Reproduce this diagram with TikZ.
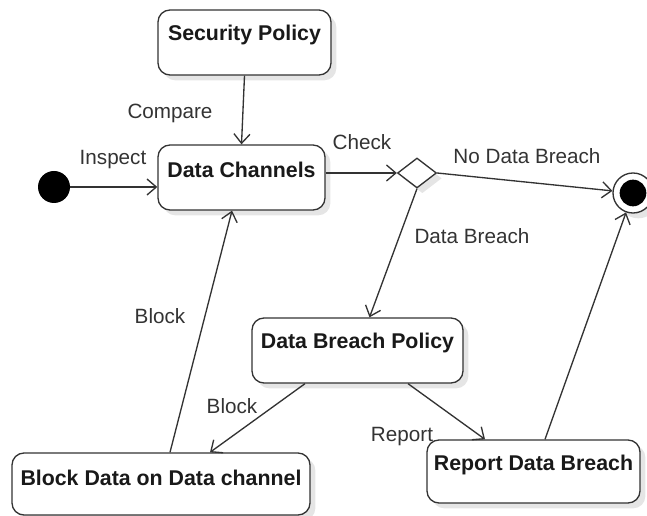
\documentclass[tikz,border=0pt]{standalone}
\usepackage{fontspec}
\setmainfont{Liberation Sans}
\usetikzlibrary{arrows.meta,shapes.geometric,shadows,calc}
\definecolor{ln}{HTML}{333333}
\tikzset{
  shad/.style={drop shadow={shadow xshift=4pt,shadow yshift=-4pt,fill=black!10,opacity=1}},
  statebox/.style={draw=ln,line width=1pt,rounded corners=9pt,fill=white,shad,inner sep=0pt},
  stxt/.style={anchor=center,font=\fontsize{16}{18}\selectfont\bfseries,text=black!90},
  lbl/.style={font=\fontsize{15.5}{18}\selectfont,text=black!80},
  arr/.style={draw=ln,line width=1pt,-{Straight Barb[length=7pt,width=12pt,line width=1pt]}},
}
\begin{document}
\begin{tikzpicture}[x=0.75pt,y=-0.75pt]
\useasboundingbox (0,0) rectangle (647,516);
% boxes
\node[statebox,minimum width=129.75pt,minimum height=48.75pt,
  label={[stxt,yshift=-19pt]north:Security Policy}] (sp) at (244.5,42.5) {};
\node[statebox,minimum width=125.25pt,minimum height=48.75pt,
  label={[stxt,yshift=-19pt]north:Data Channels}] (dc) at (241.5,177.5) {};
\node[statebox,minimum width=158.25pt,minimum height=48.75pt,
  label={[stxt,yshift=-19pt]north:Data Breach Policy}] (dbp) at (357.5,350.5) {};
\node[statebox,minimum width=223.5pt,minimum height=46.5pt,
  label={[stxt,yshift=-19pt]north:Block Data on Data channel}] (bd) at (161,484) {};
\node[statebox,minimum width=159.75pt,minimum height=47.25pt,
  label={[stxt,yshift=-19pt]north:Report Data Breach}] (rdb) at (533.5,471.5) {};
% initial, decision, final
\node[circle,fill=black,minimum size=24pt,inner sep=0pt] (init) at (54,187) {};
\node[diamond,draw=ln,line width=1pt,fill=white,shad,minimum width=29.25pt,minimum height=22.5pt,inner sep=0pt] (dec) at (417,173) {};
\node[circle,draw=ln,line width=1pt,fill=white,shad,minimum size=30pt,inner sep=0pt] (fin) at (633,193) {};
\node[circle,fill=black,minimum size=20pt,inner sep=0pt] (finin) at (fin) {};
% connectors
\draw[arr] (sp.south) -- (dc.north);
\draw[arr] (init.east) -- (init -| dc.west);
\draw[arr] (dc.east |- dec.west) -- (dec.west);
\draw[arr] (dec.east) -- (fin);
\draw[arr] (dec.south) -- ($(dbp.north)+(12,0)$);
\draw[arr] ($(bd.north)+(9,0)$) -- ($(dc.south)+(-9.5,0)$);
\draw[arr] ($(dbp.south)+(-52.5,0)$) -- ($(bd.north)+(49,0)$);
\draw[arr] ($(dbp.south)+(50.5,0)$) -- ($(rdb.north)+(-48.5,0)$);
\draw[arr] ($(rdb.north)+(11.5,0)$) -- (fin);
% labels
\node[lbl] (lcompare) at (170,113) {Compare};
\node[lbl] (linspect) at (113,160) {Inspect};
\node[lbl] (lcheck) at (362,142) {Check};
\node[lbl] (lnodb) at (527,156) {No Data Breach};
\node[lbl] (ldb) at (472,236) {Data Breach};
\node[lbl] (lblock1) at (160,316) {Block};
\node[lbl] (lblock2) at (232,406) {Block};
\node[lbl] (lreport) at (402,437) {Report};
\end{tikzpicture}
\end{document}
